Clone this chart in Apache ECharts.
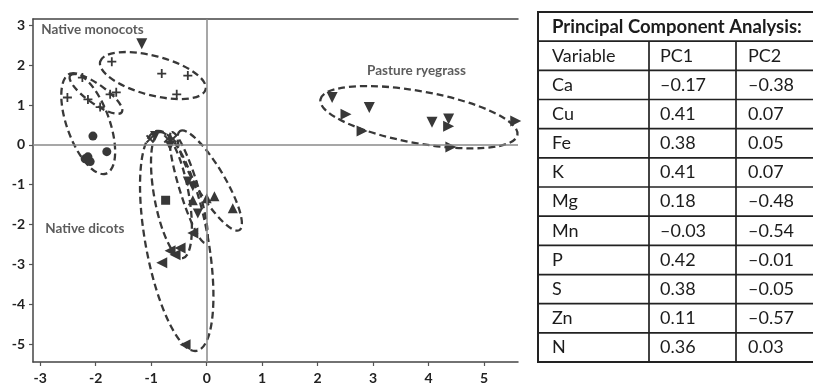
<!DOCTYPE html>
<html><head><meta charset="utf-8">
<script src="https://cdn.jsdelivr.net/npm/echarts@6/dist/echarts.min.js"></script>
<style>html,body{margin:0;padding:0;background:#fff}#c{width:813px;height:385px}</style>
</head><body><div id="c"></div>
<script>
// ---------- tick labels ----------
const xTicks = [-3, -2, -1, 0, 1, 2, 3, 4, 5];
const yTicks = [-5, -4, -3, -2, -1, 0, 1, 2, 3];

// ---------- native monocots ----------
const monoPlus = [[-1.71, 2.09], [-0.81, 1.79], [-0.34, 1.74], [-0.54, 1.27], [-2.24, 1.69],
  [-2.51, 1.19], [-2.14, 1.14], [-1.92, 0.95], [-1.74, 1.27], [-1.63, 1.32]];
const monoDown = [[-1.17, 2.54]];
const monoCircle = [[-2.05, 0.22], [-1.80, -0.17], [-2.19, -0.35], [-2.10, -0.42], [-2.14, -0.30]];

// ---------- native dicots ----------
const dicotCross = [[-1.02, 0.15], [-0.70, 0.15], [-0.61, 0.15]];
const dicotDown = [[-0.93, 0.22], [-0.66, -0.02], [-0.34, -0.92], [-0.25, -1.04], [-0.16, -1.72]];
const dicotSquare = [[-0.74, -1.39]];
const dicotUp = [[-0.25, -1.39], [0.00, -1.34], [0.14, -1.29], [0.47, -1.59]];
const dicotLeft = [[-0.25, -2.21], [-0.48, -2.59], [-0.57, -2.76], [-0.66, -2.66], [-0.81, -2.96], [-0.39, -5.02]];

// ---------- pasture ryegrass ----------
const ryeDown = [[2.26, 1.19], [2.93, 0.94], [4.06, 0.57], [4.36, 0.65]];
const ryeRight = [[2.51, 0.77], [2.80, 0.35], [4.40, -0.05], [4.36, 0.47], [5.57, 0.60]];

// ---------- group ellipses: major-axis end points (x1,y1,x2,y2) and minor/major ratio ----------
const ellipses = [
  [-1.92, 2.09, -0.02, 1.39, 0.36],
  [-2.46, 1.74, -1.53, 0.82, 0.30],
  [-2.46, 1.79, -1.81, -0.72, 0.40],
  [-0.90, 0.35, -0.18, -5.17, 0.28],
  [-0.84, 0.32, -0.43, -2.84, 0.27],
  [-0.63, 0.32, -0.02, -2.46, 0.16],
  [-0.48, 0.35, 0.59, -2.14, 0.25],
  [2.05, 1.14, 5.60, 0.25, 0.26]
];

// ---------- group labels ----------
const groupLabels = [[-2.98, 2.89, 'Native monocots'], [-2.91, -2.09, 'Native dicots'], [2.89, 1.87, 'Pasture ryegrass']];

// ---------- table ----------
const tableTitle = 'Principal Component Analysis:';
const tableHeader = ['Variable', 'PC1', 'PC2'];
const variables = ['Ca', 'Cu', 'Fe', 'K', 'Mg', 'Mn', 'P', 'S', 'Zn', 'N'];
const pc1 = [-0.17, 0.41, 0.38, 0.41, 0.18, -0.03, 0.42, 0.38, 0.11, 0.36];
const pc2 = [-0.38, 0.07, 0.05, 0.07, -0.48, -0.54, -0.01, -0.05, -0.57, 0.03];

const INK = '#383838';
const FONT = 'Lato, "Open Sans", sans-serif';
const plusPath = 'path://M4,0H6V4H10V6H6V10H4V6H0V4H4Z';

function fmt(v) { return (v < 0 ? '\u2013' : '') + Math.abs(v).toFixed(2); }

function scatter(data, symbol, rotate, size) {
  return { type: 'scatter', data: data, symbol: symbol, symbolRotate: rotate, symbolSize: size,
    itemStyle: { color: INK, opacity: 1 }, silent: true, z: 3 };
}

// table graphic
const T = { left: 538, top: 12, right: 822, rowH: 29.17, col1: 649, col2: 736 };
const tblEls = [];
const nRows = variables.length + 2;
const bottom = T.top + nRows * T.rowH;
const lineStyle = { stroke: '#222', lineWidth: 1.7 };
tblEls.push({ type: 'rect', shape: { x: T.left, y: T.top, width: T.right - T.left, height: bottom - T.top }, style: { fill: 'none', stroke: '#222', lineWidth: 2 } });
for (let i = 1; i < nRows; i++) {
  const y = T.top + i * T.rowH;
  tblEls.push({ type: 'line', shape: { x1: T.left, y1: y, x2: T.right, y2: y }, style: lineStyle });
}
[T.col1, T.col2].forEach(function (cx) {
  tblEls.push({ type: 'line', shape: { x1: cx, y1: T.top + T.rowH, x2: cx, y2: bottom }, style: lineStyle });
});
const txt = function (s, x, row, bold) {
  return { type: 'text', x: x, y: T.top + (row + 0.5) * T.rowH,
    style: { text: s, fill: '#1c1c1c', font: (bold ? 'bold 18.5px ' : '18px ') + FONT, verticalAlign: 'middle' } };
};
tblEls.push(txt(tableTitle, 552, 0, true));
tblEls.push(txt(tableHeader[0], 552, 1, false));
tblEls.push(txt(tableHeader[1], 660, 1, false));
tblEls.push(txt(tableHeader[2], 748, 1, false));
variables.forEach(function (v, i) {
  tblEls.push(txt(v, 552, i + 2, false));
  tblEls.push(txt(fmt(pc1[i]), 660, i + 2, false));
  tblEls.push(txt(fmt(pc2[i]), 748, i + 2, false));
});

const axisLbl = { color: '#222', fontWeight: 'bold', fontSize: 14, fontFamily: FONT };
const axLine = { show: true, onZero: false, lineStyle: { color: '#444', width: 1.5 } };

const chart = echarts.init(document.getElementById('c'), null, { renderer: 'canvas' });
chart.setOption({
  animation: false,
  backgroundColor: '#fff',
  grid: { left: 33, top: 19, right: 295, bottom: 20 },
  xAxis: [
    { type: 'value', min: -3.13, max: 5.61, position: 'bottom', axisLine: axLine,
      axisTick: { show: true, customValues: xTicks, length: 4, lineStyle: { color: '#555', width: 1.2 } },
      axisLabel: Object.assign({ customValues: xTicks, margin: 9 }, axisLbl), splitLine: { show: false } },
    { type: 'value', min: -3.13, max: 5.61, position: 'top', axisLine: axLine,
      axisTick: { show: false }, axisLabel: { show: false }, splitLine: { show: false } }
  ],
  yAxis: [
    { type: 'value', min: -5.45, max: 3.16, position: 'left', axisLine: axLine,
      axisTick: { show: true, customValues: yTicks, length: 4, lineStyle: { color: '#555', width: 1.2 } },
      axisLabel: Object.assign({ customValues: yTicks, margin: 8, formatter: function (v) { return String(v); } }, axisLbl),
      splitLine: { show: false } }
  ],
  graphic: { elements: tblEls },
  series: [
    { type: 'scatter', data: [], silent: true,
      markLine: { silent: true, symbol: 'none', label: { show: false },
        lineStyle: { color: '#8a8a8a', width: 1.5, type: 'solid' },
        data: [{ xAxis: 0 }, { yAxis: 0 }] } },
    { type: 'custom', silent: true, clip: false, z: 2,
      dimensions: ['x1', 'y1', 'x2', 'y2', 'r'],
      encode: { x: [0, 2], y: [1, 3] },
      data: ellipses,
      renderItem: function (params, api) {
        const p1 = api.coord([api.value(0), api.value(1)]);
        const p2 = api.coord([api.value(2), api.value(3)]);
        const dx = p2[0] - p1[0], dy = p2[1] - p1[1];
        const rx = Math.hypot(dx, dy) / 2;
        return { type: 'ellipse', x: (p1[0] + p2[0]) / 2, y: (p1[1] + p2[1]) / 2,
          rotation: -Math.atan2(dy, dx),
          shape: { cx: 0, cy: 0, rx: rx, ry: rx * api.value(4) },
          style: { fill: 'none', stroke: INK, lineWidth: 2.3, lineDash: [7, 4] } };
      } },
    scatter(monoPlus, plusPath, 0, 9),
    scatter(monoDown, 'triangle', 180, 11),
    scatter(monoCircle, 'circle', 0, 9),
    scatter(dicotCross, plusPath, 45, 10),
    scatter(dicotDown, 'triangle', 180, 10),
    scatter(dicotSquare, 'rect', 0, 9),
    scatter(dicotUp, 'triangle', 0, 10),
    scatter(dicotLeft, 'triangle', 90, 11),
    scatter(ryeDown, 'triangle', 180, 11),
    scatter(ryeRight, 'triangle', -90, 11),
    { type: 'scatter', data: groupLabels, symbolSize: 0, silent: true, z: 4,
      label: { show: true, position: 'right', distance: 0, formatter: function (p) { return p.data[2]; },
        color: '#333', fontWeight: 'bold', fontSize: 13.5, fontFamily: FONT } }
  ]
});
</script>
</body></html>
